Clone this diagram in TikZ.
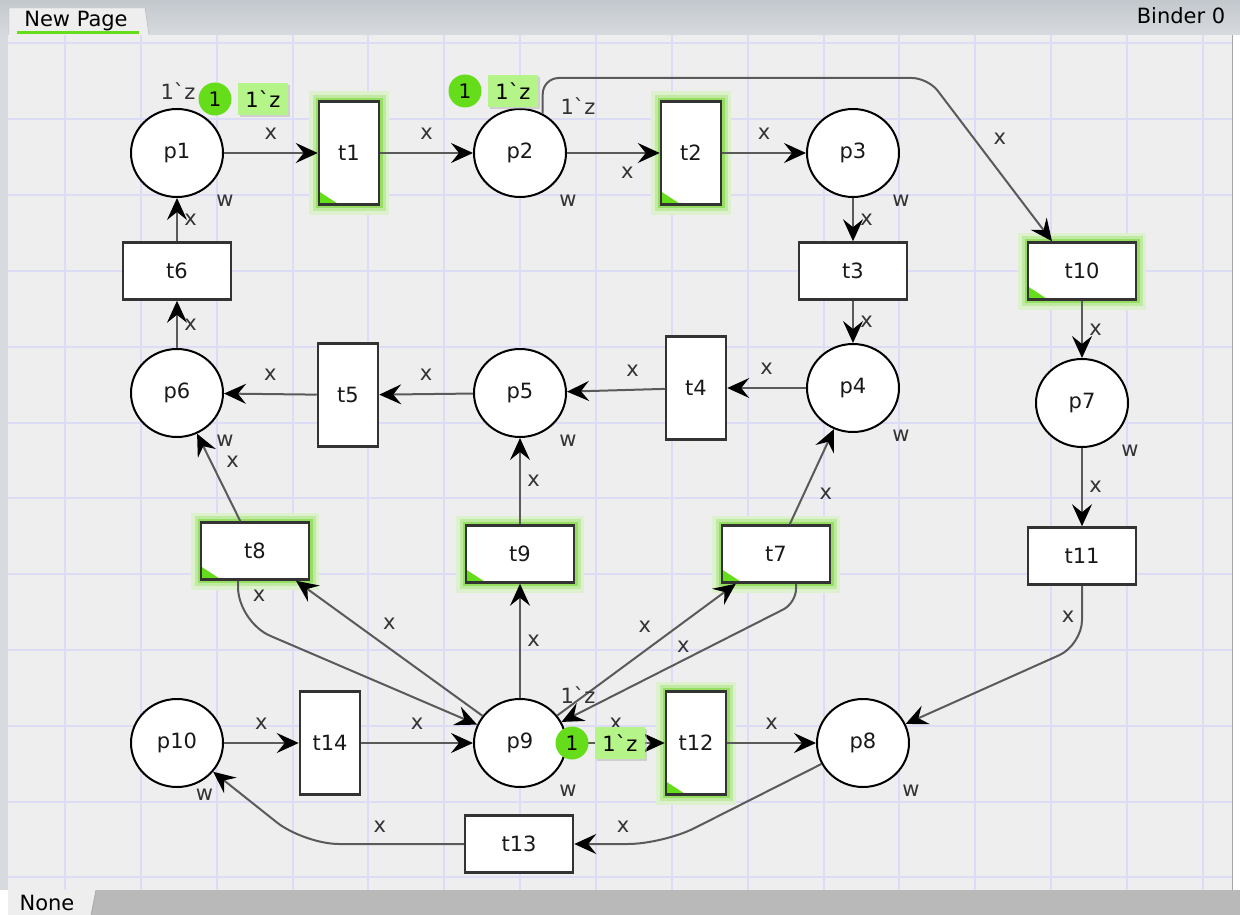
\documentclass[tikz,border=0pt]{standalone}
\usepackage{fontspec}
\setmainfont{DejaVu Sans}
\usetikzlibrary{arrows.meta,positioning,shapes.geometric,shadows}

\definecolor{canvas}{HTML}{EEEEEE}
\definecolor{gridline}{HTML}{DCDCF7}
\definecolor{arcgray}{HTML}{5A5A5A}
\definecolor{tokgreen}{HTML}{66DD1A}
\definecolor{boxgreen}{HTML}{B4F488}
\definecolor{glowin}{HTML}{96DE62}
\definecolor{glowmid}{HTML}{C0EAA2}
\definecolor{glowout}{HTML}{DDF1CF}
\definecolor{barA}{HTML}{C3C8CE}
\definecolor{barB}{HTML}{D7DBDF}
\definecolor{botgray}{HTML}{B9B9B9}

\newcommand{\onez}{1\textasciigrave z}

\tikzset{
	place/.style={ellipse, draw=black, line width=2pt, fill=white, text=black!90,
		minimum width=92pt, minimum height=88pt, inner sep=0pt},
	trans/.style={rectangle, draw=black!80, line width=2.5pt, fill=white, text=black!90, inner sep=0pt},
	vtrans/.style={trans, minimum width=60pt, minimum height=103pt},
	htrans/.style={trans, minimum width=108pt, minimum height=57pt},
	enabled/.style={preaction={draw=glowout, line width=20pt},
		preaction={draw=glowmid, line width=13pt},
		preaction={draw=glowin, line width=7pt},
		path picture={\fill[tokgreen] (path picture bounding box.south west)
			-- ++(20pt,0pt) -- ++(-20pt,13pt) -- cycle;}},
	arc/.style={draw=arcgray, line width=2pt,
		-{Stealth[length=22pt, width=20pt, inset=8pt, color=black]}},
	lbl/.style={inner sep=0pt, text=black!80},
	hl/.style={lbl, yshift=19pt},
	vl/.style={lbl, xshift=13.5pt},
	ptype/.style={lbl, anchor=center, label distance=22pt},
	tokcirc/.style={circle, fill=tokgreen, minimum size=33pt, inner sep=0pt,
		font=\fontsize{20}{22}\selectfont},
	tokbox/.style={fill=boxgreen, minimum width=50pt, minimum height=32pt, inner sep=0pt,
		drop shadow={shadow xshift=2pt, shadow yshift=-2pt, fill=black!30}}
}

\begin{document}
\begin{tikzpicture}[x=1pt, y=-1pt, font=\fontsize{21}{25}\selectfont]
	\useasboundingbox (0,0) rectangle (1240,915);
	% window
	\fill[white] (0,0) rectangle (1240,915);
	\shade[top color=barA, bottom color=barB] (0,0) rectangle (1240,35);
	\fill[barB] (0,35) rectangle (8,890);
	\fill[canvas] (8,35) rectangle (1232,890);
	\foreach \i in {0,...,15}
		\draw[gridline, line width=2pt] ({65+75.85*\i},35) -- ({65+75.85*\i},890);
	\foreach \j in {0,...,11}
		\draw[gridline, line width=2pt] (8,{43.5+75.8*\j}) -- (1232,{43.5+75.8*\j});
	\draw[black!35, line width=1.5pt] (1232.5,35) -- (1232.5,890);
	\filldraw[fill=canvas, draw=black!30] (9,35) -- (9,8) -- (145,8) -- (149,35);
	\node (np) at (76,21) {New Page};
	\draw[tokgreen, line width=2.5pt] (17,32.5) -- (139,32.5);
	\node (bd) at (1181,16) {Binder 0};
	\fill[botgray] (96,890) -- (1240,890) -- (1240,915) -- (91,915) -- cycle;
	\fill[canvas] (8,890) -- (96,890) -- (91,915) -- (8,915) -- cycle;
	\draw[black!45] (96,890) -- (91,915);
	\node (nn) at (47,903) {None};

	% places
	\node[place, label={[ptype]-45:w}] (p1) at (177,153) {p1};
	\node[place, label={[ptype]-45:w}] (p2) at (520,153) {p2};
	\node[place, label={[ptype]-45:w}] (p3) at (853,153) {p3};
	\node[place, label={[ptype]-45:w}] (p4) at (853,388) {p4};
	\node[place, label={[ptype]-45:w}] (p5) at (520,393) {p5};
	\node[place, label={[ptype]-45:w}] (p6) at (177,393) {p6};
	\node[place, label={[ptype]-45:w}] (p7) at (1082,403) {p7};
	\node[place, label={[ptype]-45:w}] (p8) at (863,743) {p8};
	\node[place, label={[ptype]-45:w}] (p9) at (520,743) {p9};
	\node[place, label={[ptype, label distance=13pt]-62:w}] (p10) at (177,743) {p10};

	% transitions
	\node[vtrans, enabled] (t1) at (349,153) {t1};
	\node[vtrans, enabled] (t2) at (691,153) {t2};
	\node[htrans] (t3) at (853,271) {t3};
	\node[vtrans] (t4) at (696,388) {t4};
	\node[vtrans] (t5) at (348,395) {t5};
	\node[htrans] (t6) at (177,271) {t6};
	\node[htrans, enabled] (t7) at (776,554) {t7};
	\node[htrans, enabled] (t8) at (255,551) {t8};
	\node[htrans, enabled] (t9) at (520,554) {t9};
	\node[htrans, enabled] (t10) at (1082,271) {t10};
	\node[htrans] (t11) at (1082,556) {t11};
	\node[vtrans, enabled] (t12) at (696,743) {t12};
	\node[htrans] (t13) at (519,844) {t13};
	\node[vtrans] (t14) at (330,743) {t14};

	\path [arc]
	(p1)  edge node [hl] {x} (t1)
	(t1)  edge node [hl] {x} (p2)
	(p2)  edge node [lbl, pos=.65, yshift=-20pt] {x} (t2)
	(t2)  edge node [hl] {x} (p3)
	(p3)  edge node [vl] {x} (t3)
	(t3)  edge node [vl] {x} (p4)
	(p4)  edge node [hl] {x} (t4)
	(t4)  edge node [hl, pos=.33] {x} (p5)
	(p5)  edge node [hl] {x} (t5)
	(t5)  edge node [hl] {x} (p6)
	(p6)  edge node [vl] {x} (t6)
	(t6)  edge node [vl] {x} (p1)
	(t10) edge node [vl] {x} (p7)
	(p7)  edge node [vl] {x} (t11)
	(t8)  edge node [lbl, pos=.675, xshift=21.5pt] {x} (p6)
	(p9)  edge node [lbl, pos=.5, yshift=25pt] {x} (t8)
	(p9)  edge node [vl] {x} (t9)
	(t9)  edge node [vl] {x} (p5)
	(p9)  edge node [lbl, pos=.49, yshift=24pt] {x} (t7)
	(t7)  edge node [lbl, pos=.32, xshift=22pt] {x} (p4)
	(p10) edge node [hl] {x} (t14)
	(t14) edge node [hl] {x} (p9)
	(p9)  edge node [hl] {x} (t12)
	(t12) edge node [hl] {x} (p8);

	\draw [arc, rounded corners=16pt] (p2.60) |- (928,78)
		-- node [lbl, pos=.37, xshift=26pt] {x} ([xshift=-30pt]t10.north);
	\draw [arc, rounded corners=25pt] (t11.south)
		-- node [lbl, pos=.53, xshift=-14pt] {x} (1082,645) -- (p8);
	\draw [arc, rounded corners=35pt] ([xshift=-17pt]t8.south)
		-- node [lbl, pos=.37, xshift=21pt] {x} (238,622) -- (p9);
	\draw [arc, rounded corners=14pt] ([xshift=20pt]t7.south)
		-- (796,603) -- node [lbl, pos=.48, yshift=13pt] {x} (p9);
	\draw [arc, rounded corners=35pt] (p8)
		-- (663,844) -- node [lbl, pos=.45, yshift=17pt] {x} (t13);
	\draw [arc, rounded corners=35pt] (t13)
		-- node [lbl, pos=.525, yshift=17pt] {x} (304,844) -- (p10);

	% initial markings and tokens
	\node[lbl] (i1) at ([xshift=1pt, yshift=62pt]p1.center) {\onez};
	\node[lbl] (i2) at ([xshift=58pt, yshift=47pt]p2.center) {\onez};
	\node[lbl] (i9) at ([xshift=58pt, yshift=48pt]p9.center) {\onez};

	\node[tokcirc] (n1) at (215,99) {1};
	\node[tokbox, right=6pt of n1] (m1) {\onez};
	\node[tokcirc] (n2) at (465,91) {1};
	\node[tokbox, right=6pt of n2] (m2) {\onez};
	\node[tokcirc] (n9) at (572,743) {1};
	\node[tokbox, right=6pt of n9] (m9) {\onez};
\end{tikzpicture}
\end{document}
